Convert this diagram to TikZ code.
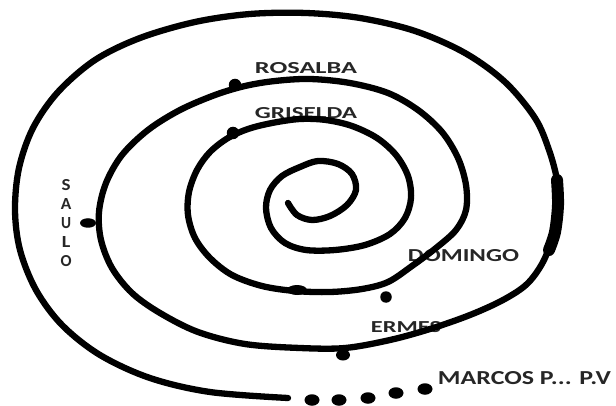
\documentclass[tikz,border=0pt]{standalone}
\usepackage{fontspec}
\setmainfont{Carlito}
\usepackage{graphicx}
\usetikzlibrary{shapes.geometric}
\begin{document}
\begin{tikzpicture}[x=1pt,y=-1pt,
  spiral/.style={line width=6.3pt, line cap=round, line join=round},
  thickpart/.style={line width=12pt, line cap=round, line join=round},
  dot/.style={circle, fill=black, inner sep=0pt, minimum size=12.5pt},
  blob/.style={ellipse, fill=black, inner sep=0pt},
  trail/.style={ellipse, fill=black, inner sep=0pt, minimum width=15pt, minimum height=11.5pt},
  lbl/.style={inner sep=0pt, text=black!85, font=\bfseries},
  letter/.style={inner sep=0pt, text=black!85, font=\bfseries}]
\useasboundingbox (0,0) rectangle (616,406);

% labels
\node[lbl] (rosalba) at (306,68) {\resizebox{102pt}{11pt}{ROSALBA}};
\node[lbl] (griselda) at (306,113) {\resizebox{102pt}{11pt}{GRISELDA}};
\node[lbl] (domingo) at (463.5,256) {\resizebox{111pt}{12pt}{DOMINGO}};
\node[lbl] (ermes) at (406,327) {\resizebox{70pt}{11pt}{ERMES}};
\node[lbl] (marcos) at (524.5,378.5) {\resizebox{173pt}{13pt}{MARCOS P... P.V}};
\node[letter] (s1) at (66,185) {\resizebox{9pt}{11pt}{S}};
\node[letter] (s2) at (66,204) {\resizebox{10.5pt}{11pt}{A}};
\node[letter] (s3) at (66,223) {\resizebox{10pt}{11pt}{U}};
\node[letter] (s4) at (66,242) {\resizebox{8.5pt}{11pt}{L}};
\node[letter] (s5) at (66,261) {\resizebox{11pt}{11pt}{O}};

% spiral
\coordinate (start) at (288,203);
\coordinate (finish) at (288,398);
\draw[spiral] plot[smooth, tension=0.55] coordinates {
(288,203) (297,215) (312,220) (330,216) (347,205) (356,190) (352,174) (338,164)
(318,161) (300,167) (282,176) (270,190) (266,208) (271,228) (285,243) (306,250)
(335,250) (365,245) (390,234) (405,218) (411,198) (408,176) (396,155) (377,138)
(352,126) (326,120) (300,119) (272,123) (248,129) (228,138) (210,152) (197,170)
(189,192) (188,215) (195,238) (210,258) (232,275) (262,286) (295,291) (330,292)
(362,289) (388,282) (412,266) (436,248) (456,230) (466,210) (466,185) (458,158)
(442,132) (418,110) (388,93) (350,83) (310,79) (275,81) (245,86) (215,95)
(180,110) (148,130) (122,155) (106,183) (99,212) (101,240) (112,268) (132,293)
(160,313) (198,332) (245,344) (300,348) (345,348) (390,340) (430,329) (470,315)
(503,300) (527,284) (543,262) (553,235) (558,205) (557,180) (549,150) (535,118)
(505,82) (465,53) (415,31) (360,18) (306,13) (250,14) (195,22) (140,38) (95,60)
(58,92) (33,128) (19,168) (15,210) (20,250) (36,290) (62,325) (100,355)
(150,378) (210,392) (288,398)};
\draw[thickpart] plot[smooth, tension=0.55] coordinates {(557,180) (558,205) (555,232) (549,250)};

% dots on the spiral
\node[dot] (dRosalba) at (235,85) {};
\node[dot] (dGriselda) at (233,133) {};
\node[blob, minimum width=16pt, minimum height=9.5pt] (dSaulo) at (88,223) {};
\node[dot, minimum size=11.5pt] (dDomingo) at (386,297) {};
\node[blob, minimum width=14pt, minimum height=11pt] (dErmes) at (343,355) {};
\node[blob, minimum width=20pt, minimum height=10pt] (dBlob) at (297,290) {};

% trailing dots
\node[trail] (m1) at (312,400) {};
\node[trail] (m2) at (339,400) {};
\node[trail] (m3) at (368,398) {};
\node[trail] (m4) at (396,393) {};
\node[trail] (m5) at (425,389) {};
\end{tikzpicture}
\end{document}
